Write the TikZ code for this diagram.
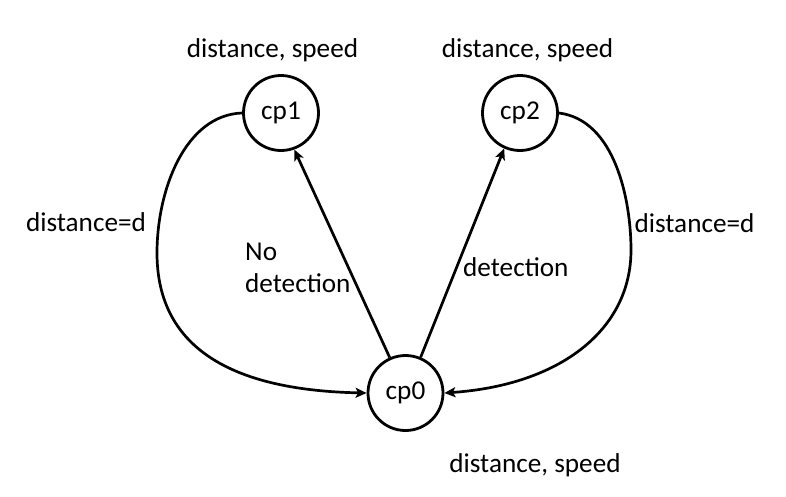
\documentclass[tikz,border=0pt]{standalone}
\usepackage{fontspec}
\setmainfont{Carlito}
\usetikzlibrary{arrows.meta}
\begin{document}
\begin{tikzpicture}[x=1pt,y=-1pt,
  every node/.style={font=\fontsize{27.2pt}{32pt}\selectfont},
  state/.style={circle,draw,line width=2.8pt,minimum size=75pt,inner sep=0pt},
  lbl/.style={inner sep=0pt},
  edge/.style={line width=2.7pt,-{Stealth[length=11pt,width=10pt,inset=2.5pt]}}]
\useasboundingbox (0,0) rectangle (786,496);
\node[state] (cp1) at (281,113) {cp1};
\node[state] (cp2) at (520,113) {cp2};
\node[state] (cp0) at (405.5,393) {cp0};
\node[lbl,anchor=base] (t1) at (272.5,57) {distance, speed};
\node[lbl,anchor=base] (t2) at (527.5,57) {distance, speed};
\node[lbl,anchor=base] (t0) at (535,472) {distance, speed};
\node[lbl,anchor=base] (dl) at (86,231) {distance=d};
\node[lbl,anchor=base] (dr) at (694.5,232) {distance=d};
\node[lbl,anchor=base west] (nd1) at (245,260) {No};
\node[lbl,anchor=base west] (nd2) at (245,292) {detection};
\node[lbl,anchor=base west] (det) at (463,276) {detection};
\coordinate (lw) at (157,253);
\coordinate (rw) at (631,250);
\draw[edge] (cp0.114) -- (cp1.-70);
\draw[edge] (cp0.67) -- (cp2.246);
\draw[edge] (cp1.180) .. controls (185,115) and (157,190) .. (lw)
  .. controls (157,340) and (220,390) .. (cp0.180);
\draw[edge] (cp2.0) .. controls (615,120) and (631,200) .. (rw)
  .. controls (631,330) and (560,385) .. (cp0.0);
\end{tikzpicture}
\end{document}
